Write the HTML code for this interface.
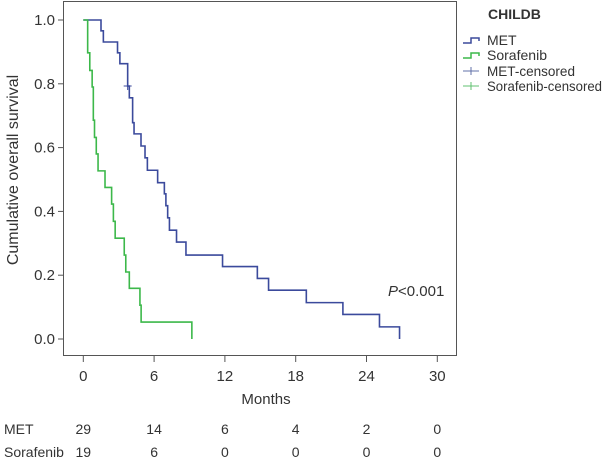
<!DOCTYPE html>
<html><head><meta charset="utf-8"><style>
body{margin:0;background:#fff;font-family:"Liberation Sans",sans-serif;}
svg text{fill:#333;}
</style></head><body>
<svg id="chart" width="606" height="466" viewBox="0 0 606 466" xmlns="http://www.w3.org/2000/svg" font-family="Liberation Sans, sans-serif">
<rect x="63.5" y="1.5" width="393" height="354" fill="none" stroke="#555" stroke-width="1"/>
<g id="axes"></g>
<g id="series"></g>
<text transform="translate(18,170) rotate(-90)" text-anchor="middle" font-size="16">Cumulative overall survival</text>
<text x="266" y="404" text-anchor="middle" font-size="15">Months</text>
<text x="388" y="296" font-size="15"><tspan font-style="italic">P</tspan>&lt;0.001</text>
<g>
<text x="488" y="19" font-size="14" font-weight="bold">CHILDB</text>
<g><path d="M463 43h8v-5h8v3" fill="none" stroke="#3b4a9c" stroke-width="1.5"/><text x="487" y="45" font-size="14">MET</text></g>
<g><path d="M463 58h8v-5h8v3" fill="none" stroke="#3cb84a" stroke-width="1.5"/><text x="487" y="60" font-size="14" textLength="60" lengthAdjust="spacingAndGlyphs">Sorafenib</text></g>
<g><path d="M463 71h16M471 67v8" stroke="#6070a8" stroke-width="1"/><text x="487" y="76" font-size="14" textLength="88" lengthAdjust="spacingAndGlyphs">MET-censored</text></g>
<g><path d="M463 86h16M471 82v8" stroke="#60c070" stroke-width="1"/><text x="487" y="91" font-size="14" textLength="115" lengthAdjust="spacingAndGlyphs">Sorafenib-censored</text></g>
</g>
<g id="risk"></g>
</svg>
<script>
const xTicks=[0,6,12,18,24,30];
const yTicks=[0,0.2,0.4,0.6,0.8,1.0];
const metTimes=[0,1.5,1.7,2.9,3.1,3.76,3.9,4.18,4.3,4.89,5.23,5.43,6.3,6.87,7.0,7.15,7.3,7.9,8.7,11.8,14.75,15.7,18.9,22.0,25.1,26.8];
const metSurv=[1.0,0.966,0.931,0.897,0.863,0.793,0.756,0.678,0.643,0.605,0.568,0.529,0.49,0.455,0.418,0.38,0.341,0.304,0.263,0.227,0.19,0.153,0.114,0.077,0.038,0.0];
const metCensorTimes=[3.76];
const metCensorSurv=[0.793];
const sorTimes=[0,0.37,0.55,0.75,0.85,0.95,1.1,1.25,1.84,2.4,2.55,2.7,3.47,3.6,3.9,4.8,4.9,9.2];
const sorSurv=[1.0,0.897,0.842,0.79,0.686,0.632,0.58,0.527,0.475,0.423,0.369,0.316,0.263,0.21,0.159,0.106,0.053,0.0];
const riskMet=[29,14,6,4,2,0];
const riskSor=[19,6,0,0,0,0];
const NS="http://www.w3.org/2000/svg";
const X=t=>83.3+t*11.8;
const Y=s=>339-s*319;
function mk(tag,attrs,parent,txt){const e=document.createElementNS(NS,tag);for(const k in attrs)e.setAttribute(k,attrs[k]);if(txt!==undefined)e.textContent=txt;parent.appendChild(e);return e;}
const axes=document.getElementById('axes');
xTicks.forEach(t=>{
 const l=mk('line',{x1:X(t),x2:X(t),y1:355,y2:362,stroke:'#555'},axes);
 
 
 const tx=mk('text',{x:X(t),y:381,'text-anchor':'middle','font-size':15},axes,String(t));
 
 
});
yTicks.forEach(v=>{
 const l=mk('line',{x1:58,x2:63,y1:Y(v),y2:Y(v),stroke:'#555'},axes);
 
 
 const tx=mk('text',{x:55,y:Y(v)+5,'text-anchor':'end','font-size':15},axes,v.toFixed(1));
 
 
});
function stepPath(ts,ss){let d='M'+X(ts[0])+' '+Y(ss[0]);for(let i=1;i<ts.length;i++){d+=' H'+X(ts[i])+' V'+Y(ss[i]);}return d;}
const ser=document.getElementById('series');
const pm=mk('path',{d:stepPath(metTimes,metSurv),fill:'none',stroke:'#3b4a9c','stroke-width':1.6},ser);


const ps=mk('path',{d:stepPath(sorTimes,sorSurv),fill:'none',stroke:'#3cb84a','stroke-width':1.6},ser);


metCensorTimes.forEach((t,i)=>{
 const c=mk('path',{d:`M${X(t)-4} ${Y(metCensorSurv[i])}h8M${X(t)} ${Y(metCensorSurv[i])-4}v8`,stroke:'#3b4a9c','stroke-width':1},ser);
 
 
});
const risk=document.getElementById('risk');
const r1=mk('text',{x:4,y:434,'font-size':14},risk,'MET');


const r2=mk('text',{x:4,y:457,'font-size':14},risk,'Sorafenib');


xTicks.forEach((t,i)=>{
 const a=mk('text',{x:X(t),y:434,'text-anchor':'middle','font-size':14},risk,String(riskMet[i]));
 
 
 const b=mk('text',{x:X(t),y:457,'text-anchor':'middle','font-size':14},risk,String(riskSor[i]));
 
 
});
</script>
</body></html>
